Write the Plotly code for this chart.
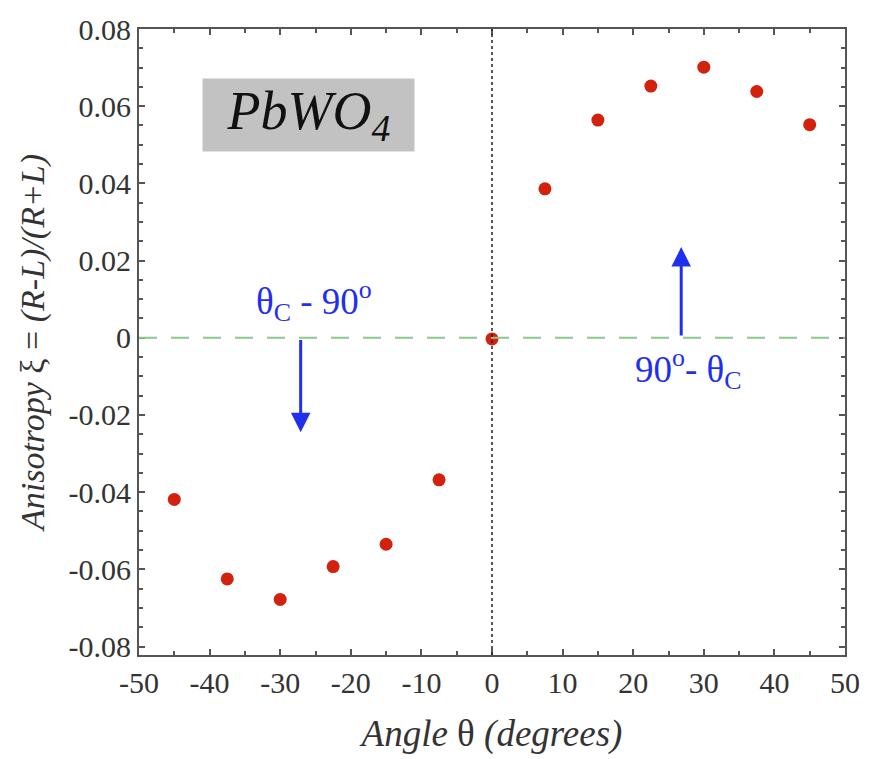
import plotly.graph_objects as go

angles = [-45, -37.5, -30, -22.5, -15, -7.5, 0, 7.5, 15, 22.5, 30, 37.5, 45]
anisotropy = [-0.0419, -0.0625, -0.0678, -0.0593, -0.0535, -0.0368, -0.0003,
              0.0386, 0.0564, 0.0652, 0.0701, 0.0638, 0.0552]

x_ticks = [-50, -40, -30, -20, -10, 0, 10, 20, 30, 40, 50]
x_tick_labels = ["-50", "-40", "-30", "-20", "-10", "0", "10", "20", "30", "40", "50"]
y_ticks = [-0.08, -0.06, -0.04, -0.02, 0, 0.02, 0.04, 0.06, 0.08]
y_tick_labels = ["-0.08", "-0.06", "-0.04", "-0.02", "0", "0.02", "0.04", "0.06", "0.08"]

SERIF = "Liberation Serif, Times New Roman, serif"
BLUE = "#1f2ff0"

fig = go.Figure()
fig.add_trace(go.Scatter(
    x=angles, y=anisotropy, mode="markers",
    marker=dict(color="#d2220e", size=13, line=dict(width=0)),
    showlegend=False,
))

# zero lines
fig.add_shape(type="line", xref="x", yref="y", x0=-50, x1=50, y0=0, y1=0,
              line=dict(color="#8cc88c", width=2, dash="18px,14px"))
fig.add_shape(type="line", xref="x", yref="paper", x0=0, x1=0, y0=0, y1=1,
              line=dict(color="#222222", width=1.5, dash="dot"))

axis_common = dict(
    showgrid=False, zeroline=False, showline=True, linecolor="#555555", linewidth=2,
    mirror="allticks", ticks="inside", ticklen=6, tickwidth=1.5, tickcolor="#555555",
    tickfont=dict(family=SERIF, size=30, color="#333333"),
)

fig.update_xaxes(
    range=[-50, 50], tickvals=x_ticks, ticktext=x_tick_labels,
    minor=dict(dtick=5, ticks="inside", ticklen=4, tickcolor="#555555", tickwidth=1.5, showgrid=False),
    title=dict(text="<i>Angle</i> θ <i>(degrees)</i>", font=dict(family=SERIF, size=37, color="#333333"), standoff=22),
    **axis_common,
)
fig.update_yaxes(
    range=[-0.0822, 0.08], tickvals=y_ticks, ticktext=y_tick_labels,
    minor=dict(dtick=0.005, tick0=0, ticks="inside", ticklen=4, tickcolor="#555555", tickwidth=1.5, showgrid=False),
    title=dict(text="<i>Anisotropy</i> ξ = <i>(R-L)/(R+L)</i>",
               font=dict(family=SERIF, size=34, color="#333333"), standoff=14),
    **axis_common,
)

annotations = [
    dict(x=-26.0, y=0.0577, xref="x", yref="y", showarrow=False,
         text="<i>PbWO<sub>4</sub></i>", font=dict(family=SERIF, size=54, color="#111111"),
         bgcolor="#c2c2c2", width=205, height=66, borderpad=3),
    # arrows
    dict(x=-27.1, y=-0.0245, ax=-27.1, ay=-0.0002, xref="x", yref="y", axref="x", ayref="y",
         showarrow=True, arrowhead=2, arrowsize=1.3, arrowwidth=3, arrowcolor=BLUE, text=""),
    dict(x=26.8, y=0.0235, ax=26.8, ay=0.0002, xref="x", yref="y", axref="x", ayref="y",
         showarrow=True, arrowhead=2, arrowsize=1.3, arrowwidth=3, arrowcolor=BLUE, text=""),
    dict(x=-25.2, y=0.0095, xref="x", yref="y", showarrow=False,
         text="θ<sub>C</sub> - 90<sup>o</sup>", font=dict(family=SERIF, size=37, color=BLUE)),
    dict(x=27.8, y=-0.0082, xref="x", yref="y", showarrow=False,
         text="90<sup>o</sup>- θ<sub>C</sub>", font=dict(family=SERIF, size=37, color=BLUE)),
]

fig.update_layout(
    width=872, height=759,
    margin=dict(l=139, r=25, t=20, b=100),
    paper_bgcolor="white", plot_bgcolor="white",
    annotations=annotations,
)

fig.write_html("out.html")
